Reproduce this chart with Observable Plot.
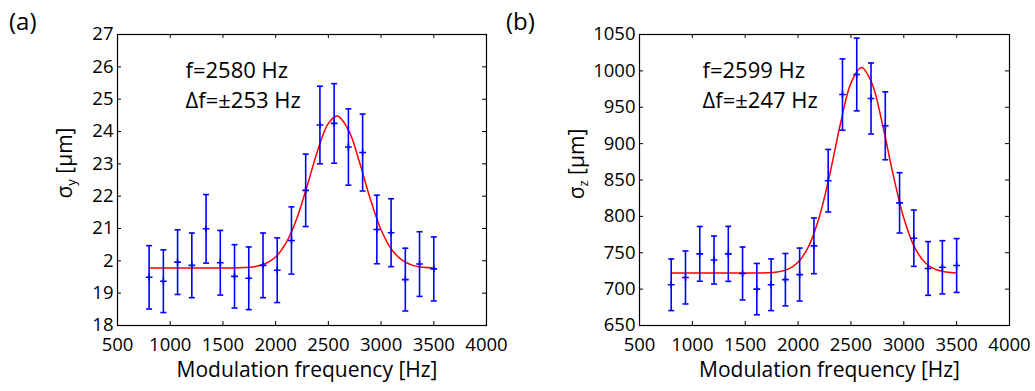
<!DOCTYPE html>
<html><head><meta charset="utf-8">
<script src="https://cdn.jsdelivr.net/npm/d3@7"></script>
<script src="https://cdn.jsdelivr.net/npm/@observablehq/plot@0.6"></script>
<style>
body{margin:0;background:#fff;font-family:"Open Sans",sans-serif;}
#wrap{position:relative;width:1035px;height:391px;overflow:hidden;background:#fff}
.panel{position:absolute;top:0}
.lbl{position:absolute;font-size:24px;color:#000;line-height:1}
.ylab{position:absolute;width:140px;height:30px;line-height:30px;text-align:center;font-size:21px;color:#000;transform:rotate(-90deg);transform-origin:center;white-space:nowrap}
.ylab sub{font-size:13px;vertical-align:-4px}
</style></head><body>
<div id="wrap">
  <div id="pa" class="panel" style="left:0"></div>
  <div id="pb" class="panel" style="left:517px"></div>
  <div class="lbl" style="left:9px;top:9px">(a)</div>
  <div class="lbl" style="left:506px;top:9px">(b)</div>
  <div class="ylab" style="left:-6px;top:148px">σ<sub>y</sub> [μm]</div>
  <div class="ylab" style="left:506px;top:149px">σ<sub>z</sub> [μm]</div>
</div>
<script>
// ---- data ----
const freq = [800, 935, 1070, 1205, 1340, 1475, 1610, 1745, 1880, 2015, 2150, 2285, 2420, 2555, 2690, 2825, 2960, 3095, 3230, 3365, 3500];
const sigmaY = [19.49, 19.37, 19.96, 19.86, 20.99, 19.94, 19.52, 19.46, 19.86, 19.71, 20.63, 22.18, 24.2, 24.25, 23.52, 23.35, 20.97, 20.87, 19.42, 19.9, 19.75];
const errY = [0.98, 0.97, 1.0, 1.0, 1.06, 1.0, 0.98, 0.97, 1.0, 1.0, 1.04, 1.12, 1.2, 1.23, 1.18, 1.19, 1.06, 1.05, 0.97, 1.0, 0.99];
const sigmaZ = [706, 716, 748.5, 740, 748.5, 721.5, 700, 706, 713, 720, 759.5, 849, 967.5, 995, 962, 924.5, 818.6, 770, 728.4, 730, 732.5];
const errZ = [35.5, 36.4, 37.6, 33, 37.8, 36.4, 35.3, 35.5, 36, 36.4, 38.3, 43, 49, 50, 48.8, 46.7, 41.5, 38.7, 36.9, 36.6, 37];

const fitYF = [800, 1000, 1200, 1400, 1600, 1700, 1800, 1900, 2000, 2100, 2200, 2300, 2400, 2500, 2580, 2600, 2700, 2800, 2900, 3000, 3100, 3200, 3300, 3400, 3500];
const fitY = [19.78, 19.78, 19.78, 19.78, 19.78, 19.79, 19.82, 19.91, 20.12, 20.56, 21.30, 22.33, 23.43, 24.25, 24.48, 24.46, 23.98, 23.00, 21.89, 20.96, 20.35, 20.02, 19.86, 19.80, 19.78];
const fitZF = [800, 1000, 1200, 1400, 1600, 1700, 1800, 1900, 2000, 2100, 2200, 2300, 2400, 2500, 2600, 2700, 2800, 2900, 3000, 3100, 3200, 3300, 3400, 3500];
const fitZ = [722, 722, 722, 722, 722.1, 722.4, 723.5, 727.1, 737, 758.8, 798.7, 857.9, 926.6, 983.2, 1004.5, 982.4, 925.2, 856.7, 797.8, 758.2, 736.7, 727.1, 723.5, 722.3];

const xTicks = [500, 1000, 1500, 2000, 2500, 3000, 3500, 4000];
const xTickLabels = ["500", "1000", "1500", "2000", "2500", "3000", "3500", "4000"];
const yTicksA = [18, 19, 20, 21, 22, 23, 24, 25, 26, 27];
const yTickLabelsA = ["18", "19", "2", "21", "22", "23", "24", "25", "26", "27"];
const yTicksB = [650, 700, 750, 800, 850, 900, 950, 1000, 1050];
const yTickLabelsB = ["650", "700", "750", "800", "850", "900", "950", "1000", "1050"];
const annotA = "f=2580 Hz\nΔf=±253 Hz";
const annotB = "f=2599 Hz\nΔf=±247 Hz";
const xLabel = "Modulation frequency [Hz]";

// ---- symbols ----
const capSym = {draw(ctx, size) { const r = Math.sqrt(size / Math.PI); ctx.moveTo(-r, 0); ctx.lineTo(r, 0); }};
const plusSym = {draw(ctx, size) { const r = Math.sqrt(size / Math.PI); ctx.moveTo(-r, 0); ctx.lineTo(r, 0); ctx.moveTo(0, -r); ctx.lineTo(0, r); }};

function panel({vals, errs, fitF, fitV, yDomain, yTicks, yLabels, annot, width, marginLeft, marginRight, annotDx}) {
  const pts = freq.map((f, i) => ({f, v: vals[i], lo: vals[i] - errs[i], hi: vals[i] + errs[i]}));
  const fit = fitF.map((f, i) => ({f, v: fitV[i]}));
  const height = 391, marginTop = 34, marginBottom = 66;
  const innerW = width - marginLeft - marginRight, innerH = height - marginTop - marginBottom;
  const xl = new Map(xTicks.map((t, i) => [t, xTickLabels[i]]));
  const yl = new Map(yTicks.map((t, i) => [t, yLabels[i]]));
  const blue = "#0000ff";
  return Plot.plot({
    width, height, marginLeft, marginRight, marginTop, marginBottom,
    style: {fontFamily: "'Open Sans', sans-serif", fontSize: "18.5px", background: "white", color: "black"},
    x: {domain: [500, 4000], label: null},
    y: {domain: yDomain, label: null},
    marks: [
      Plot.axisX({ticks: xTicks, tickSize: 0, tickPadding: 12, tickFormat: d => xl.get(d), label: null}),
      Plot.axisY({ticks: yTicks, tickSize: 0, tickPadding: 4, tickFormat: d => yl.get(d), label: null}),
      Plot.tickX(xTicks, {x: d => d, insetTop: innerH - 4, stroke: "black", strokeWidth: 1}),
      Plot.tickX(xTicks, {x: d => d, insetBottom: innerH - 4, stroke: "black", strokeWidth: 1}),
      Plot.tickY(yTicks, {y: d => d, insetRight: innerW - 4, stroke: "black", strokeWidth: 1}),
      Plot.tickY(yTicks, {y: d => d, insetLeft: innerW - 4, stroke: "black", strokeWidth: 1}),
      Plot.line(fit, {x: "f", y: "v", stroke: "#ff0000", strokeWidth: 1.5, curve: "catmull-rom"}),
      Plot.ruleX(pts, {x: "f", y1: "lo", y2: "hi", stroke: blue, strokeWidth: 1.6}),
      Plot.dot(pts, {x: "f", y: "lo", symbol: capSym, r: 3, stroke: blue, strokeWidth: 1.6}),
      Plot.dot(pts, {x: "f", y: "hi", symbol: capSym, r: 3, stroke: blue, strokeWidth: 1.6}),
      Plot.dot(pts, {x: "f", y: "v", symbol: plusSym, r: 3.4, stroke: blue, strokeWidth: 1.6}),
      Plot.text([annot], {frameAnchor: "top-left", dx: annotDx, dy: 22, lineAnchor: "top", textAnchor: "start", lineHeight: 1.36, fontSize: 22, fill: "black"}),
      Plot.text([xLabel], {frameAnchor: "bottom", dy: 45, dx: 5, lineAnchor: "middle", fontSize: 21, fill: "black"}),
      Plot.frame({stroke: "black", strokeWidth: 1.2})
    ]
  });
}

document.getElementById("pa").append(panel({
  vals: sigmaY, errs: errY, fitF: fitYF, fitV: fitY, yDomain: [18, 27], yTicks: yTicksA, yLabels: yTickLabelsA,
  annot: annotA, width: 517, marginLeft: 117, marginRight: 31, annotDx: 68
}));
document.getElementById("pb").append(panel({
  vals: sigmaZ, errs: errZ, fitF: fitZF, fitV: fitZ, yDomain: [650, 1050], yTicks: yTicksB, yLabels: yTickLabelsB,
  annot: annotB, width: 518, marginLeft: 122, marginRight: 26, annotDx: 63
}));
</script>
</body></html>
